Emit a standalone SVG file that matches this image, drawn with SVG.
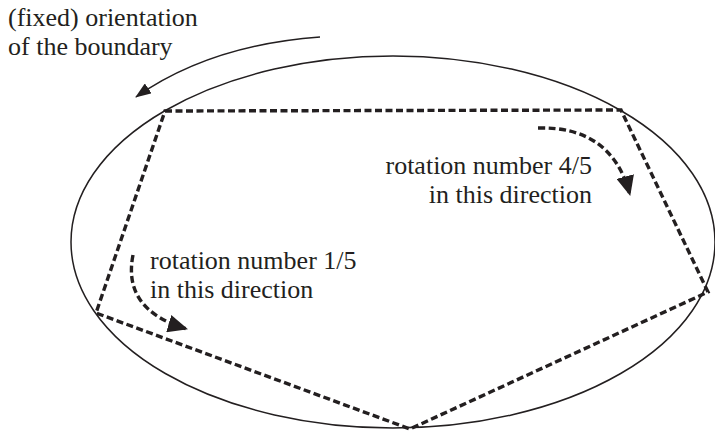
<svg xmlns="http://www.w3.org/2000/svg" width="715" height="431" viewBox="0 0 715 431">
<style>
.t{font-family:'Liberation Serif','Times New Roman','DejaVu Serif',serif;font-size:26px;fill:#231f20}
.solid{fill:none;stroke:#231f20;stroke-width:1.5}
.dash{fill:none;stroke:#231f20;stroke-width:3.4;stroke-dasharray:7 3.5}
</style>
<defs>
<marker id="ah" viewBox="0 0 16 12" refX="15" refY="6" markerWidth="16" markerHeight="12" markerUnits="userSpaceOnUse" orient="auto">
<path d="M0,0 L16,6 L0,12 Z" fill="#231f20"/>
</marker>
<marker id="ah2" viewBox="0 0 20 18" refX="19" refY="9" markerWidth="20" markerHeight="18" markerUnits="userSpaceOnUse" orient="auto">
<path d="M0,0 L20,9 L0,18 Z" fill="#231f20"/>
</marker>
</defs>
<g id="boundary">
<ellipse class="solid" cx="393" cy="242" rx="322" ry="186"/>
</g>
<g id="polygon">
<polygon class="dash" points="165,111 621,110 708,292 410,429 96,313"/>
</g>
<g id="connectors">
<path class="solid" d="M320,37 Q210,45 136,97" marker-end="url(#ah)"/>
<path class="dash" d="M538,128 Q612,126 630,195" marker-end="url(#ah2)"/>
<path class="dash" d="M133,255 Q122,310 187,329" marker-end="url(#ah2)"/>
</g>
<g id="label-orientation">
<text class="t" x="8" y="26">(fixed) orientation</text>
<text class="t" x="8" y="55">of the boundary</text>
</g>
<g id="label-45">
<text class="t" x="592" y="174" text-anchor="end">rotation number 4/5</text>
<text class="t" x="592" y="203" text-anchor="end">in this direction</text>
</g>
<g id="label-15">
<text class="t" x="150" y="269">rotation number 1/5</text>
<text class="t" x="150" y="298">in this direction</text>
</g>
</svg>
